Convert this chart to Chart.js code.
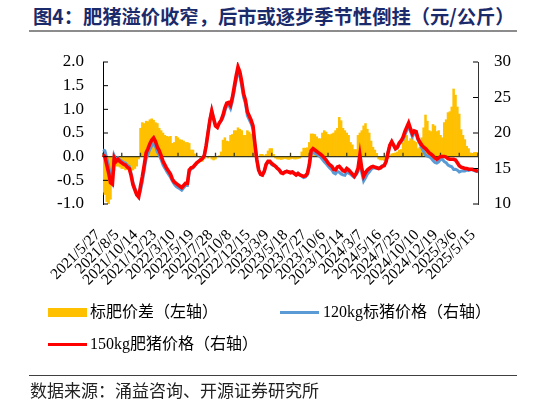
<!DOCTYPE html>
<html>
<head>
<meta charset="utf-8">
<script src="https://cdn.jsdelivr.net/npm/chart.js@4.4.1/dist/chart.umd.min.js"></script>
<style>
  body { margin: 0; background: #fff; }
  #wrap { position: relative; width: 546px; height: 405px; overflow: hidden; background: #fff; }
  #chart { position: absolute; left: 0; top: 0; }
  #title { position: absolute; left: 33px; top: 2px; font: bold 19.3px "Noto Sans CJK SC"; color: #1b2a6b; white-space: nowrap; }
  .rule { position: absolute; left: 29px; width: 488px; }
  .leg { position: absolute; font: 16px "Liberation Serif", "Noto Sans CJK SC"; color: #000; white-space: nowrap; line-height: 20px; }
  .swatch { position: absolute; }
  #source { position: absolute; left: 30px; top: 379px; font: 17px "Noto Sans CJK SC"; color: #222; white-space: nowrap; line-height: 22px; }
</style>
</head>
<body>
<div id="wrap">
  <div id="title">图4：肥猪溢价收窄，后市或逐步季节性倒挂（元/公斤）</div>
  <div class="rule" style="top:30px;height:2px;background:#8c8c8c"></div>
  <canvas id="chart" width="546" height="405"></canvas>

  <div class="swatch" style="left:48px;top:308px;width:39px;height:9px;background:#FFC000"></div>
  <div class="leg" style="left:90px;top:302px">标肥价差（左轴）</div>
  <div class="swatch" style="left:280px;top:311px;width:39px;height:3px;background:#5B9BD5"></div>
  <div class="leg" style="left:323px;top:302px">120kg标猪价格（右轴）</div>
  <div class="swatch" style="left:48px;top:342.5px;width:39px;height:3px;background:#FF0000"></div>
  <div class="leg" style="left:90px;top:334px">150kg肥猪价格（右轴）</div>

  <div class="rule" style="top:374.5px;height:1px;background:#404040"></div>
  <div id="source">数据来源：涌益咨询、开源证券研究所</div>
</div>
<script>
// x-axis labels, one every 10 weeks
const tickLabels = [
  '2021/5/27', '2021/8/5', '2021/10/14', '2021/12/23', '2022/3/10', '2022/5/19',
  '2022/7/28', '2022/10/8', '2022/12/15', '2023/3/9', '2023/5/18', '2023/7/27',
  '2023/10/6', '2023/12/14', '2024/3/7', '2024/5/16', '2024/7/25', '2024/10/10',
  '2024/12/19', '2025/3/6', '2025/5/15'
];

// 标肥价差 (left axis)
const spread = [
  -0.75, -0.8, -0.95, -1.0, -0.9, -0.35, -0.3, -0.2, -0.2, -0.22,
  -0.25, -0.25, -0.28, -0.27, -0.28, -0.3, -0.28, -0.25, -0.2, -0.05,
  0.6, 0.72, 0.7, 0.75, 0.74, 0.78, 0.8, 0.77, 0.72, 0.7,
  0.6, 0.55, 0.5, 0.45, 0.43, 0.42, 0.43, 0.28, 0.3, 0.43,
  0.4, 0.36, 0.35, 0.33, 0.3, 0.3, 0.28, 0.14, 0.14, 0.06,
  0.02, 0.0, -0.05, -0.1, -0.05, 0.0, -0.03, 0.0, -0.05, -0.07,
  -0.05, 0.0, 0.02, 0.1, 0.35, 0.4, 0.33, 0.32, 0.45, 0.47,
  0.55, 0.55, 0.61, 0.58, 0.55, 0.45, 0.45, 0.55, 0.52, 0.48,
  0.45, 0.05, -0.02, 0.0, 0.05, 0.05, 0.02, 0.05, 0.12, 0.17,
  0.17, 0.05, -0.03, -0.05, -0.05, -0.06, -0.05, -0.04, -0.05, -0.06,
  -0.05, -0.04, -0.05, -0.05, -0.04, -0.03, 0.1, 0.18, 0.18, 0.19,
  0.3, 0.48, 0.48, 0.47, 0.42, 0.38, 0.38, 0.5, 0.55, 0.52,
  0.47, 0.46, 0.48, 0.5, 0.55, 0.6, 0.83, 0.76, 0.6, 0.55,
  0.5, 0.45, 0.3, 0.25, 0.15, 0.15, 0.45, 0.5, 0.55, 0.65,
  0.7, 0.58, 0.5, 0.33, 0.2, 0.14, 0.07, -0.05, -0.07, -0.07,
  -0.08, -0.05, -0.04, 0.02, 0.06, 0.07, 0.08, 0.1, 0.14, 0.15,
  0.3, 0.47, 0.45, 0.33, 0.38, 0.4, 0.33, 0.3, 0.17, 0.2,
  0.4, 0.61, 0.88, 0.75, 0.55, 0.53, 0.68, 0.65, 0.53, 0.55,
  0.45, 0.4, 0.72, 0.78, 0.93, 0.95, 1.05, 1.43, 1.3, 1.05,
  0.9, 0.57, 0.45, 0.36, 0.22, 0.17, 0.08, 0.07, 0.09, 0.09,
  0.08
];

// 120kg标猪价格 (right axis)
const stdPrice = [
  17.65, 17.5, 16.45, 15.4, 13.9, 13.15, 16.8, 16.2, 16.5, 16.22,
  16.05, 15.85, 15.78, 15.47, 15.28, 14.3, 12.98, 12.25, 11.5, 11.05,
  11.9, 13.18, 14.8, 16.45, 17.06, 17.72, 18.2, 18.53, 18.08, 17.3,
  16.9, 16.25, 15.5, 15.05, 14.57, 14.18, 13.77, 13.22, 12.8, 12.47,
  12.3, 12.14, 11.95, 12.27, 12.6, 12.6, 14.52, 14.96, 15.06, 15.44,
  15.78, 16.0, 16.25, 16.5, 16.85, 18.2, 20.03, 21.8, 23.15, 22.07,
  21.05, 20.8, 21.38, 21.7, 22.15, 23.1, 23.87, 23.98, 23.45, 24.53,
  25.95, 27.45, 28.69, 28.02, 26.65, 25.05, 24.15, 22.45, 21.88, 21.32,
  20.55, 18.45, 16.32, 14.8, 14.15, 14.05, 14.58, 15.55, 15.88, 15.83,
  15.53, 15.45, 15.33, 15.05, 14.85, 14.46, 14.35, 14.54, 14.65, 14.56,
  14.45, 14.54, 14.35, 14.15, 14.34, 14.13, 13.9, 13.72, 13.82, 14.11,
  15.2, 17.02, 17.32, 17.13, 16.98, 16.82, 16.62, 16.3, 15.95, 15.68,
  15.33, 15.04, 14.82, 14.4, 14.25, 14.6, 14.47, 14.24, 14.1, 14.05,
  14.5, 14.35, 14.2, 13.95, 13.75, 14.15, 14.55, 16.4, 14.45, 13.25,
  13.7, 14.22, 14.5, 14.87, 15.1, 15.06, 15.03, 15.05, 15.17, 15.37,
  15.48, 16.05, 17.24, 18.28, 18.74, 18.23, 17.72, 17.9, 18.46, 18.75,
  19.1, 19.73, 20.35, 21.07, 20.22, 19.5, 19.97, 19.9, 19.03, 18.5,
  17.9, 17.39, 16.92, 16.75, 16.65, 16.47, 16.12, 15.85, 15.77, 15.95,
  16.25, 16.3, 15.98, 15.82, 15.47, 15.35, 15.25, 14.87, 14.9, 14.75,
  14.5, 14.63, 14.65, 14.64, 14.78, 14.73, 14.82, 14.83, 14.71, 14.61,
  14.52
];

// 150kg肥猪价格 (right axis)
const fatPrice = [
  16.9, 16.7, 15.5, 14.4, 13.0, 12.8, 16.5, 16.0, 16.3, 16.0,
  15.8, 15.6, 15.5, 15.2, 15.0, 14.0, 12.7, 12.0, 11.3, 11.0,
  12.5, 13.9, 15.5, 17.2, 17.8, 18.5, 19.0, 19.3, 18.8, 18.0,
  17.5, 16.8, 16.0, 15.5, 15.0, 14.6, 14.2, 13.5, 13.1, 12.9,
  12.7, 12.5, 12.3, 12.6, 12.9, 12.9, 14.8, 15.1, 15.2, 15.5,
  15.8, 16.0, 16.2, 16.4, 16.8, 18.2, 20.0, 21.8, 23.1, 22.0,
  21.0, 20.8, 21.4, 21.8, 22.5, 23.5, 24.2, 24.3, 23.9, 25.0,
  26.5, 28.0, 29.3, 28.6, 27.2, 25.5, 24.6, 23.0, 22.4, 21.8,
  21.0, 18.5, 16.3, 14.8, 14.2, 14.1, 14.6, 15.6, 16.0, 16.0,
  15.7, 15.5, 15.3, 15.0, 14.8, 14.4, 14.3, 14.5, 14.6, 14.5,
  14.4, 14.5, 14.3, 14.1, 14.3, 14.1, 14.0, 13.9, 14.0, 14.3,
  15.5, 17.5, 17.8, 17.6, 17.4, 17.2, 17.0, 16.8, 16.5, 16.2,
  15.8, 15.5, 15.3, 14.9, 14.8, 15.2, 15.3, 15.0, 14.7, 14.6,
  15.0, 14.8, 14.5, 14.2, 13.9, 14.3, 15.0, 16.9, 15.0, 13.9,
  14.4, 14.8, 15.0, 15.2, 15.3, 15.2, 15.1, 15.0, 15.1, 15.3,
  15.4, 16.0, 17.2, 18.3, 18.8, 18.3, 17.8, 18.0, 18.6, 18.9,
  19.4, 20.2, 20.8, 21.4, 20.6, 19.9, 20.3, 20.2, 19.2, 18.7,
  18.3, 18.0, 17.8, 17.5, 17.2, 17.0, 16.8, 16.5, 16.3, 16.5,
  16.7, 16.7, 16.7, 16.6, 16.4, 16.3, 16.3, 16.3, 16.2, 15.8,
  15.4, 15.2, 15.1, 15.0, 15.0, 14.9, 14.9, 14.9, 14.8, 14.7,
  14.6
];

const weeks = spread.map((_, i) => (i % 10 === 0 ? tickLabels[i / 10] : ''));

const serif = '"Liberation Serif", "Times New Roman", serif';

// zero line with upward ticks, drawn right after the bars; inward ticks on both y axes
const axisMarks = {
  id: 'axisMarks',
  afterDatasetDraw(chart, args) {
    if (args.index !== 0) return;
    const { ctx, chartArea, scales } = chart;
    const y0 = scales.yL.getPixelForValue(0);
    ctx.save();
    ctx.strokeStyle = '#3d3a1c';
    ctx.lineWidth = 1.3;
    ctx.beginPath();
    ctx.moveTo(chartArea.left, y0);
    ctx.lineTo(chartArea.right, y0);
    for (let i = 0; i < weeks.length; i += 10) {
      const x = scales.x.getPixelForValue(i);
      ctx.moveTo(x, y0);
      ctx.lineTo(x, y0 - 4);
    }
    ctx.stroke();
    ctx.restore();
  },
  afterDraw(chart) {
    const { ctx, chartArea, scales } = chart;
    ctx.save();
    ctx.strokeStyle = '#000';
    ctx.lineWidth = 1;
    ctx.beginPath();
    scales.yL.ticks.forEach(t => {
      const y = scales.yL.getPixelForValue(t.value);
      ctx.moveTo(chartArea.left, y);
      ctx.lineTo(chartArea.left + 5, y);
    });
    scales.yR.ticks.forEach(t => {
      const y = scales.yR.getPixelForValue(t.value);
      ctx.moveTo(chartArea.right, y);
      ctx.lineTo(chartArea.right - 5, y);
    });
    ctx.stroke();
    ctx.restore();
  }
};

Chart.defaults.font.family = serif;
Chart.defaults.color = '#000';

function draw() {
  new Chart(document.getElementById('chart'), {
    type: 'bar',
    data: {
      labels: weeks,
      datasets: [
        {
          type: 'bar',
          label: '标肥价差（左轴）',
          data: spread,
          yAxisID: 'yL',
          backgroundColor: '#FFC000',
          borderWidth: 0,
          barPercentage: 1,
          categoryPercentage: 1,
          order: 3
        },
        {
          type: 'line',
          label: '120kg标猪价格（右轴）',
          data: stdPrice,
          yAxisID: 'yR',
          borderColor: '#5B9BD5',
          borderWidth: 3,
          pointRadius: 0,
          tension: 0,
          order: 2
        },
        {
          type: 'line',
          label: '150kg肥猪价格（右轴）',
          data: fatPrice,
          yAxisID: 'yR',
          borderColor: '#FF0000',
          borderWidth: 3.6,
          pointRadius: 0,
          tension: 0,
          order: 1
        }
      ]
    },
    options: {
      responsive: false,
      animation: false,
      devicePixelRatio: 1,
      layout: { padding: { top: 62, left: 0, right: 0, bottom: 0 } },
      plugins: { legend: { display: false }, tooltip: { enabled: false } },
      scales: {
        x: {
          offset: false,
          grid: { display: false, drawTicks: false },
          border: { display: false },
          afterFit: s => { s.height = 201; },
          ticks: {
            autoSkip: false,
            minRotation: 45,
            maxRotation: 45,
            labelOffset: -5,
            padding: 22,
            font: { family: serif, size: 15.5 },
            callback: (v, i) => (i % 10 === 0 ? weeks[i] : null)
          }
        },
        yL: {
          position: 'left',
          min: -1,
          max: 2,
          grid: { drawOnChartArea: false, drawTicks: false },
          border: { display: true, color: '#000', width: 1 },
          afterFit: s => { s.width = 103; },
          ticks: { stepSize: 0.5, padding: 19, font: { family: serif, size: 17 }, callback: v => v.toFixed(1) }
        },
        yR: {
          position: 'right',
          min: 10,
          max: 30,
          grid: { drawOnChartArea: false, drawTicks: false },
          border: { display: true, color: '#333', width: 1 },
          afterFit: s => { s.width = 68; },
          ticks: { stepSize: 5, padding: 16, font: { family: serif, size: 17 } }
        }
      }
    },
    plugins: [axisMarks]
  });
}

document.fonts.load('17px "Liberation Serif"').then(draw, draw);
</script>
</body>
</html>
